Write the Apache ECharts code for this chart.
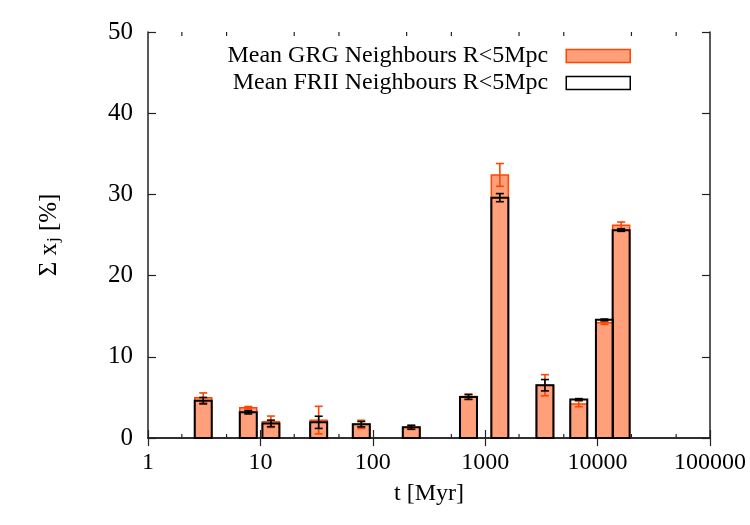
<!DOCTYPE html>
<html>
<head>
<meta charset="utf-8">
<script src="https://cdn.jsdelivr.net/npm/echarts@6/dist/echarts.min.js"></script>
<style>
  html, body { margin: 0; padding: 0; background: #fff; }
  #main { width: 750px; height: 525px; }
</style>
</head>
<body>
<div id="main"></div>
<script>
// ages of the bins (Myr) and mean fractions in %
var ages = [3.1, 7.8, 12.4, 33, 79, 220, 710, 1350, 3400, 6800, 11500, 16200];
var grgVals = [4.95, 3.73, 2.0, 2.2, 1.68, 1.32, 5.1, 32.4, 6.5, 4.2, 14.2, 26.2];
var grgErr = [0.6, 0.15, 0.7, 1.7, 0.5, 0.2, 0.3, 1.4, 1.3, 0.35, 0.2, 0.4];
var friiVals = [4.6, 3.16, 1.8, 1.93, 1.7, 1.32, 5.05, 29.6, 6.5, 4.75, 14.55, 25.6];
var friiErr = [0.4, 0.2, 0.4, 0.75, 0.33, 0.25, 0.3, 0.5, 0.7, 0.1, 0.1, 0.15];
var minorTicks = [2, 5, 20, 50, 200, 500, 2000, 5000, 20000, 50000];
var grgName = 'Mean GRG Neighbours R<5Mpc';
var friiName = 'Mean FRII Neighbours R<5Mpc';

var FONT = 'Liberation Serif';
var BAR_W = 17;

var myChart = echarts.init(document.getElementById('main'));

function barItem(fill, stroke, lw) {
    return function (params, api) {
        var top = api.coord([api.value(0), api.value(1)]);
        var base = api.coord([api.value(0), 0]);
        return {
            type: 'rect',
            shape: { x: top[0] - BAR_W / 2, y: top[1], width: BAR_W, height: base[1] - top[1] },
            style: { fill: fill, stroke: stroke, lineWidth: lw }
        };
    };
}

function errItem(color) {
    return function (params, api) {
        var hi = api.coord([api.value(0), api.value(1) + api.value(2)]);
        var lo = api.coord([api.value(0), api.value(1) - api.value(2)]);
        var c = 4;
        var st = { stroke: color, lineWidth: 1.6 };
        return {
            type: 'group',
            children: [
                { type: 'line', shape: { x1: hi[0], y1: hi[1], x2: lo[0], y2: lo[1] }, style: st },
                { type: 'line', shape: { x1: hi[0] - c, y1: hi[1], x2: hi[0] + c, y2: hi[1] }, style: st },
                { type: 'line', shape: { x1: lo[0] - c, y1: lo[1], x2: lo[0] + c, y2: lo[1] }, style: st }
            ]
        };
    };
}

function pairs(vals, errs) {
    return ages.map(function (t, i) { return errs ? [t, vals[i], errs[i]] : [t, vals[i]]; });
}

var axisLine = { show: true, lineStyle: { color: '#222', width: 1.5 } };
var tickIn = { show: true, inside: true, length: 8, lineStyle: { color: '#222', width: 1.2 } };

option = {
    animation: false,
    backgroundColor: '#fff',
    grid: { left: 148, right: 40, top: 32, bottom: 87, show: false },
    legend: {
        orient: 'vertical',
        right: 114,
        top: 39,
        align: 'right',
        selectedMode: false,
        itemWidth: 64,
        itemHeight: 13,
        itemGap: 3,
        textStyle: { fontFamily: FONT, fontSize: 24, color: '#000', lineHeight: 24, padding: [0, 13, 0, 0] },
        data: [
            { name: grgName, icon: 'rect', itemStyle: { color: '#ffa07a', borderColor: '#ff4500', borderWidth: 1.5 } },
            { name: friiName, icon: 'rect', itemStyle: { color: '#fff', borderColor: '#000', borderWidth: 1.5 } }
        ]
    },
    xAxis: [{
        type: 'log',
        logBase: 10,
        min: 1,
        max: 100000,
        position: 'bottom',
        axisLine: axisLine,
        axisTick: tickIn,
        splitLine: { show: false },
        axisLabel: {
            fontFamily: FONT, fontSize: 24, color: '#000', margin: 13,
            formatter: function (v) { return String(Math.round(v)); }
        },
        name: 't [Myr]',
        nameLocation: 'middle',
        nameGap: 44,
        nameTextStyle: { fontFamily: FONT, fontSize: 24, color: '#000' }
    }, {
        type: 'log',
        logBase: 10,
        min: 1,
        max: 100000,
        position: 'top',
        axisLine: axisLine,
        axisTick: tickIn,
        axisLabel: { show: false },
        splitLine: { show: false }
    }],
    yAxis: [{
        type: 'value',
        min: 0,
        max: 50,
        interval: 10,
        position: 'left',
        axisLine: axisLine,
        axisTick: tickIn,
        splitLine: { show: false },
        axisLabel: { fontFamily: FONT, fontSize: 25, color: '#000', margin: 15 },
        name: '{a|Σ x}{b|j}{a| [%]}',
        nameLocation: 'middle',
        nameGap: 86,
        nameTextStyle: {
            rich: {
                a: { fontFamily: FONT, fontSize: 25, color: '#000' },
                b: { fontFamily: FONT, fontSize: 17, color: '#000', padding: [9, 0, 0, 1] }
            }
        }
    }, {
        type: 'value',
        min: 0,
        max: 50,
        interval: 10,
        position: 'right',
        axisLine: axisLine,
        axisTick: tickIn,
        axisLabel: { show: false },
        splitLine: { show: false }
    }],
    series: [{
        name: grgName,
        type: 'custom',
        renderItem: barItem('#ffa07a', '#ff4500', 1.5),
        itemStyle: { color: '#ffa07a' },
        encode: { x: 0, y: 1 },
        data: pairs(grgVals),
        z: 2
    }, {
        name: 'grgErr',
        type: 'custom',
        renderItem: errItem('#ff4500'),
        encode: { x: 0, y: [1, 2] },
        data: pairs(grgVals, grgErr),
        z: 3
    }, {
        name: friiName,
        type: 'custom',
        renderItem: barItem('none', '#000', 2),
        itemStyle: { color: '#fff' },
        encode: { x: 0, y: 1 },
        data: pairs(friiVals),
        z: 4
    }, {
        name: 'friiErr',
        type: 'custom',
        renderItem: errItem('#000'),
        encode: { x: 0, y: [1, 2] },
        data: pairs(friiVals, friiErr),
        z: 5
    }, {
        // minor log ticks at 2 and 5 of each decade
        name: 'minor',
        type: 'custom',
        silent: true,
        renderItem: function (params, api) {
            var b = api.coord([api.value(0), 0]);
            var t = api.coord([api.value(0), 50]);
            var st = { stroke: '#222', lineWidth: 1.2 };
            return {
                type: 'group',
                children: [
                    { type: 'line', shape: { x1: b[0], y1: b[1], x2: b[0], y2: b[1] - 4 }, style: st },
                    { type: 'line', shape: { x1: t[0], y1: t[1], x2: t[0], y2: t[1] + 4 }, style: st }
                ]
            };
        },
        data: minorTicks.map(function (v) { return [v]; }),
        z: 1
    }]
};

myChart.setOption(option);
</script>
</body>
</html>
